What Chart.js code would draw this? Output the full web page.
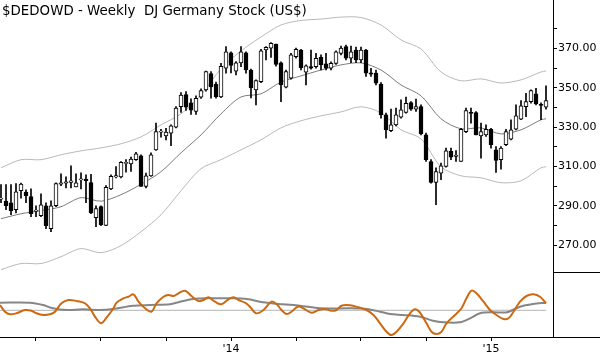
<!DOCTYPE html>
<html><head><meta charset="utf-8">
<script src="https://cdn.jsdelivr.net/npm/chart.js@4.4.1/dist/chart.umd.min.js"></script>
<style>
html,body{margin:0;padding:0;background:#fff;width:600px;height:360px;overflow:hidden}
#wrap{position:relative;width:600px;height:360px}
canvas{position:absolute;left:0}
#c1{top:0}
#c2{top:272px}
</style></head><body>
<div id="wrap"><canvas id="c1" width="600" height="272"></canvas><canvas id="c2" width="600" height="88"></canvas></div>
<script>
const chartTitle = '$DEDOWD - Weekly  DJ Germany Stock (US$)';

const openP = [293.4,292.5,291.6,288.1,297.7,297.0,294.7,287.3,285.0,290.1,278.4,290.1,301.0,301.6,302.0,299.7,303.2,303.6,301.9,284.0,289.6,280.1,298.7,304.7,304.7,311.6,311.4,313.5,315.5,299.9,305.3,318.5,327.5,325.6,327.0,330.1,340.5,346.6,342.4,338.0,345.3,349.0,357.3,352.0,345.4,360.0,367.9,358.5,362.7,367.8,359.1,349.0,353.2,369.3,370.2,372.3,362.7,350.4,354.9,365.9,369.3,358.0,360.8,360.8,365.6,362.2,360.0,362.5,367.6,371.0,365.1,369.3,364.2,369.3,357.6,357.5,352.0,336.3,328.3,331.2,335.1,337.5,342.5,339.2,340.5,326.1,312.6,301.9,306.7,310.1,317.7,315.2,312.6,327.8,337.6,337.5,325.6,326.1,329.0,318.5,313.5,321.1,324.0,329.0,334.1,340.5,343.0,347.0,341.7,340.2];
const highP = [300.8,300.8,300.8,301.3,301.6,298.2,298.7,290.1,296.2,291.6,292.6,301.8,306.3,304.8,310.4,306.3,306.8,305.8,306.0,290.1,290.1,300.3,305.8,310.0,312.6,313.5,314.8,317.2,316.0,306.7,317.0,332.1,329.0,329.5,331.2,340.5,347.6,348.1,344.4,346.0,349.5,358.5,358.3,353.0,362.5,371.0,368.4,363.4,371.0,368.4,359.6,354.1,369.6,371.0,373.0,372.3,363.3,359.1,367.6,370.3,369.6,361.7,369.3,367.6,366.8,367.6,363.3,368.9,371.3,371.8,371.3,370.7,370.7,369.6,360.0,359.1,352.7,337.2,339.2,339.7,343.9,345.3,343.0,344.3,341.4,327.0,313.5,309.4,311.8,319.4,319.4,318.2,329.5,339.7,339.7,338.0,332.1,331.2,329.5,320.2,320.2,329.0,333.8,341.4,343.6,347.3,349.0,349.8,342.4,351.0];
const lowP = [291.6,288.1,285.5,286.5,294.0,291.6,284.5,284.5,284.5,278.4,276.9,289.6,300.3,299.2,299.2,299.7,298.7,291.6,286.0,279.4,280.0,280.0,298.2,304.2,304.2,307.1,307.6,313.1,299.9,299.1,305.0,318.2,325.0,323.6,320.6,329.6,337.5,338.5,336.5,336.5,344.7,348.3,344.8,344.8,345.0,357.5,357.6,356.6,360.8,357.5,344.9,341.4,352.7,364.2,365.5,361.0,343.0,350.0,354.4,365.1,359.1,351.5,359.5,360.0,359.1,359.1,359.1,362.0,366.8,364.2,362.8,362.8,362.8,355.8,355.8,351.5,334.6,324.5,327.8,330.7,334.6,337.2,338.5,338.0,326.1,312.6,301.6,290.6,303.3,309.7,313.5,312.6,312.6,327.3,332.1,326.1,314.3,325.3,319.4,307.0,308.7,320.6,323.6,328.7,333.8,335.4,342.2,341.4,333.8,339.2];
const closeP = [293.9,290.1,287.6,297.2,301.1,295.2,286.0,287.9,290.6,280.0,290.1,301.3,301.8,302.2,302.7,301.8,303.8,302.8,286.5,288.6,280.5,299.4,305.0,305.4,312.1,312.1,313.8,316.5,299.9,305.3,316.0,327.8,328.1,327.5,330.7,339.7,346.4,340.2,338.7,344.7,348.6,358.3,350.5,345.6,361.0,368.4,361.5,362.7,368.4,359.1,350.0,353.7,368.9,370.6,372.7,362.0,351.5,358.3,366.8,369.6,360.3,361.2,360.0,365.1,361.7,360.0,362.5,368.4,370.2,365.1,368.4,364.2,369.3,357.5,357.0,352.4,336.3,328.7,331.2,336.3,338.8,342.2,339.2,340.5,326.6,313.5,301.9,307.5,310.4,318.0,314.8,315.8,329.0,338.5,337.0,326.1,327.8,329.0,321.1,313.1,319.4,327.8,328.7,335.8,340.9,343.0,348.6,341.9,341.1,343.6];

// Bollinger bands, read at every 4th week
const bandIdx = [0,4,8,12,16,20,24,28,32,36,40,44,48,52,56,60,64,68,72,76,80,84,88,92,96,100,104,108,109];
const upperBand = [309.4,313.5,313.5,316.0,318.0,319.5,321.6,325.1,331.2,336.8,346.4,359.8,368.8,375.9,382.0,384.3,385.0,386.0,385.8,382.0,374.4,369.8,358.1,353.6,354.6,352.5,354.1,358.1,358.6];
const midBand   = [283.5,286.0,287.6,289.6,294.2,292.4,295.7,301.0,307.4,317.0,326.1,336.8,345.4,347.0,353.0,356.1,359.1,361.7,362.7,359.1,351.5,346.0,334.3,329.2,329.7,326.6,328.7,333.8,334.3];
const lowerBand = [257.6,260.7,260.7,264.2,268.3,266.2,269.8,276.9,285.5,297.7,308.9,313.5,318.5,323.6,329.7,333.3,335.8,337.8,340.4,337.3,328.7,324.1,309.9,305.3,304.3,301.8,302.8,309.4,309.9];

// Lower oscillator panel
const oscIdx = [-0.2,0.8,1.8,3.1,4.8,6.1,7.1,8.5,9.8,10.8,12.1,13.5,15.1,16.8,17.8,18.8,20,21.1,22.5,23.1,24.5,25.5,26.5,27.5,28.8,30.1,31.1,32.5,33.5,34.5,35.5,36.8,38.1,39.5,40.5,41.5,42.8,44.1,45.5,46.5,47.5,48.8,49.8,51,52.5,54.1,55.1,56.1,57.1,58.1,59.1,59.8,60.8,62.1,63.5,64.8,66.1,67.1,68.1,69.8,71.5,73.1,74.5,75.8,77.1,78.1,79.1,80.5,81.8,82.8,83.8,85.1,86.1,87.1,88.1,89.1,90.8,92.1,93.1,94.1,95.1,96.5,97.8,99.1,100.5,101.5,102.5,103.8,105.1,106.5,107.8,109];
const oscVal = [32,25.3,22.7,23.7,27,26.3,23.7,22,22.7,25.3,33.7,37,36,33.7,28.7,20.3,13.7,19.3,28.7,34.3,38.7,40.3,42.7,35.3,28.7,25.3,33.7,40.3,42,41,43.7,46.3,41,36,37,39.7,35.3,32.7,37.7,39.7,37,34.3,30.3,23.7,27,35.3,33,27,23,25.3,29.7,30.3,27.7,24.3,27,28,26.3,27,31.3,31.7,29.7,27,22,13.7,5.3,2,5.3,13.7,23.7,27.7,24.3,13.7,5.3,3,5.3,13.7,22,28.7,38.7,46.3,43.7,35.3,27,22,18,18.7,25.3,35.3,41,42.7,40.3,33.7];
const sigIdx = [-0.2,5.8,8.4,10.4,13.2,16.4,19.8,22.4,26.4,29.8,33.8,35.8,38.4,41.2,46.4,49.2,52.4,56.4,59.8,63.8,69.8,73.2,75.8,77.8,80.4,83.8,86.4,88.4,91.8,93.8,95.8,98.4,101.2,103.8,106.4,109];
const sigVal = [34.3,34.3,32,28.7,27,27.7,27,28,31.3,32,32.7,35.3,38,38.7,38.7,38,34.7,32.7,31.3,28.7,28.7,28,25.3,23,22,20.3,16.3,14.7,14.7,18.7,23.7,24.7,24.7,30.3,33,34.3];
const oscLevel = 26.7;

// Axis ticks
const yTickVals = [270,280,290,300,310,320,330,340,350,360,370,380];
const yLabelVals = [270,290,310,330,350,370];
const xTickIdx = [7,20,33,46,59,72,85,98];
const xTickLabels = ['','','',"'14",'','','',"'15"];

const FONT = 'DejaVu Sans';
const N = openP.length;
const idx = Array.from({length:N},(_,i)=>i);
const bodies = idx.map(i=>({x:i, y:[openP[i], closeP[i]]}));
const wicks = idx.map(i=>({x:i, y:[lowP[i], highP[i]]}));
const bodyFill = idx.map(i=> closeP[i] >= openP[i] ? '#ffffff' : '#000000');
const pts = (xs, ys) => xs.map((x,k)=>({x, y: ys[k]}));

const titlePlugin = {
  id:'titleText',
  afterDraw(chart){
    const c = chart.ctx; c.save();
    c.font = '13.4px "' + FONT + '"'; c.fillStyle = '#000'; c.textBaseline = 'alphabetic'; c.textAlign = 'left';
    c.fillText(chartTitle, 2, 15);
    c.restore();
  }
};
const framePlugin = {
  id:'frameLines',
  afterDraw(chart){
    const c = chart.ctx, a = chart.chartArea; c.save();
    c.strokeStyle = '#000'; c.lineWidth = 1; c.beginPath();
    c.moveTo(a.right, 0.5); c.lineTo(600, 0.5);
    c.moveTo(a.right, Math.round(a.bottom)+0.5); c.lineTo(600, Math.round(a.bottom)+0.5);
    c.stroke(); c.restore();
  }
};

const xCommon = {type:'linear', min:-0.2, max:110.4, offset:false};

new Chart(document.getElementById('c1'), {
  type:'bar',
  data:{datasets:[
    {type:'line', data:pts(bandIdx, upperBand), borderColor:'#b9b9b9', borderWidth:1, pointRadius:0, tension:0.3, order:5},
    {type:'line', data:pts(bandIdx, lowerBand), borderColor:'#b9b9b9', borderWidth:1, pointRadius:0, tension:0.3, order:5},
    {type:'line', data:pts(bandIdx, midBand), borderColor:'#7c7c7c', borderWidth:1, pointRadius:0, tension:0.3, order:4},
    {type:'bar', data:wicks, backgroundColor:'#000', borderWidth:0, barThickness:1, grouped:false, order:2},
    {type:'bar', data:bodies, backgroundColor:bodyFill, borderColor:'#000', borderWidth:1, borderSkipped:false, barThickness:4, grouped:false, minBarLength:1.2, order:1}
  ]},
  options:{
    animation:false, responsive:false, devicePixelRatio:1,
    layout:{padding:0},
    plugins:{legend:{display:false}, tooltip:{enabled:false}, title:{display:false}},
    scales:{
      x:Object.assign({display:false, grid:{offset:false}}, xCommon),
      y:{
        position:'right', min:256.4, max:394.7,
        afterBuildTicks:s=>{ s.ticks = yTickVals.map(v=>({value:v})); },
        afterFit:s=>{ s.width = 47; s.paddingTop = 0; s.paddingBottom = 0; },
        grid:{drawOnChartArea:false, drawTicks:true, tickLength:4, color:'#000', tickColor:'#000', tickWidth:1},
        border:{display:true, color:'#000', width:1},
        ticks:{autoSkip:false, padding:1, color:'#000', font:{family:FONT, size:11},
          callback:v=> yLabelVals.includes(v) ? v.toFixed(2) : ''}
      }
    }
  },
  plugins:[titlePlugin]
});

new Chart(document.getElementById('c2'), {
  type:'line',
  data:{datasets:[
    {data:[{x:-0.2,y:oscLevel},{x:109,y:oscLevel}], borderColor:'#b4b4b4', borderWidth:1, pointRadius:0, order:3},
    {data:pts(sigIdx, sigVal), borderColor:'#868686', borderWidth:2, pointRadius:0, tension:0.3, order:2},
    {data:pts(oscIdx, oscVal), borderColor:'#cc6a12', borderWidth:2, pointRadius:0, tension:0.35, order:1}
  ]},
  options:{
    animation:false, responsive:false, devicePixelRatio:1,
    layout:{padding:0},
    plugins:{legend:{display:false}, tooltip:{enabled:false}},
    scales:{
      x:Object.assign({
        position:'bottom',
        afterBuildTicks:s=>{ s.ticks = xTickIdx.map(v=>({value:v})); },
        afterFit:s=>{ s.height = 23; s.paddingLeft = 0; s.paddingRight = 0; },
        grid:{drawOnChartArea:false, drawTicks:true, tickLength:4, color:'#000', tickColor:'#000'},
        border:{display:true, color:'#000', width:1},
        ticks:{autoSkip:false, maxRotation:0, padding:2, color:'#000', font:{family:FONT, size:11},
          callback:v=>{ const k = xTickIdx.indexOf(v); return k >= 0 ? xTickLabels[k] : ''; }}
      }, xCommon),
      y:{
        position:'right', min:0, max:65,
        afterFit:s=>{ s.width = 47; s.paddingTop = 0; s.paddingBottom = 0; },
        grid:{display:false},
        border:{display:true, color:'#000', width:1},
        ticks:{display:false}
      }
    }
  },
  plugins:[framePlugin]
});
</script>
</body></html>
